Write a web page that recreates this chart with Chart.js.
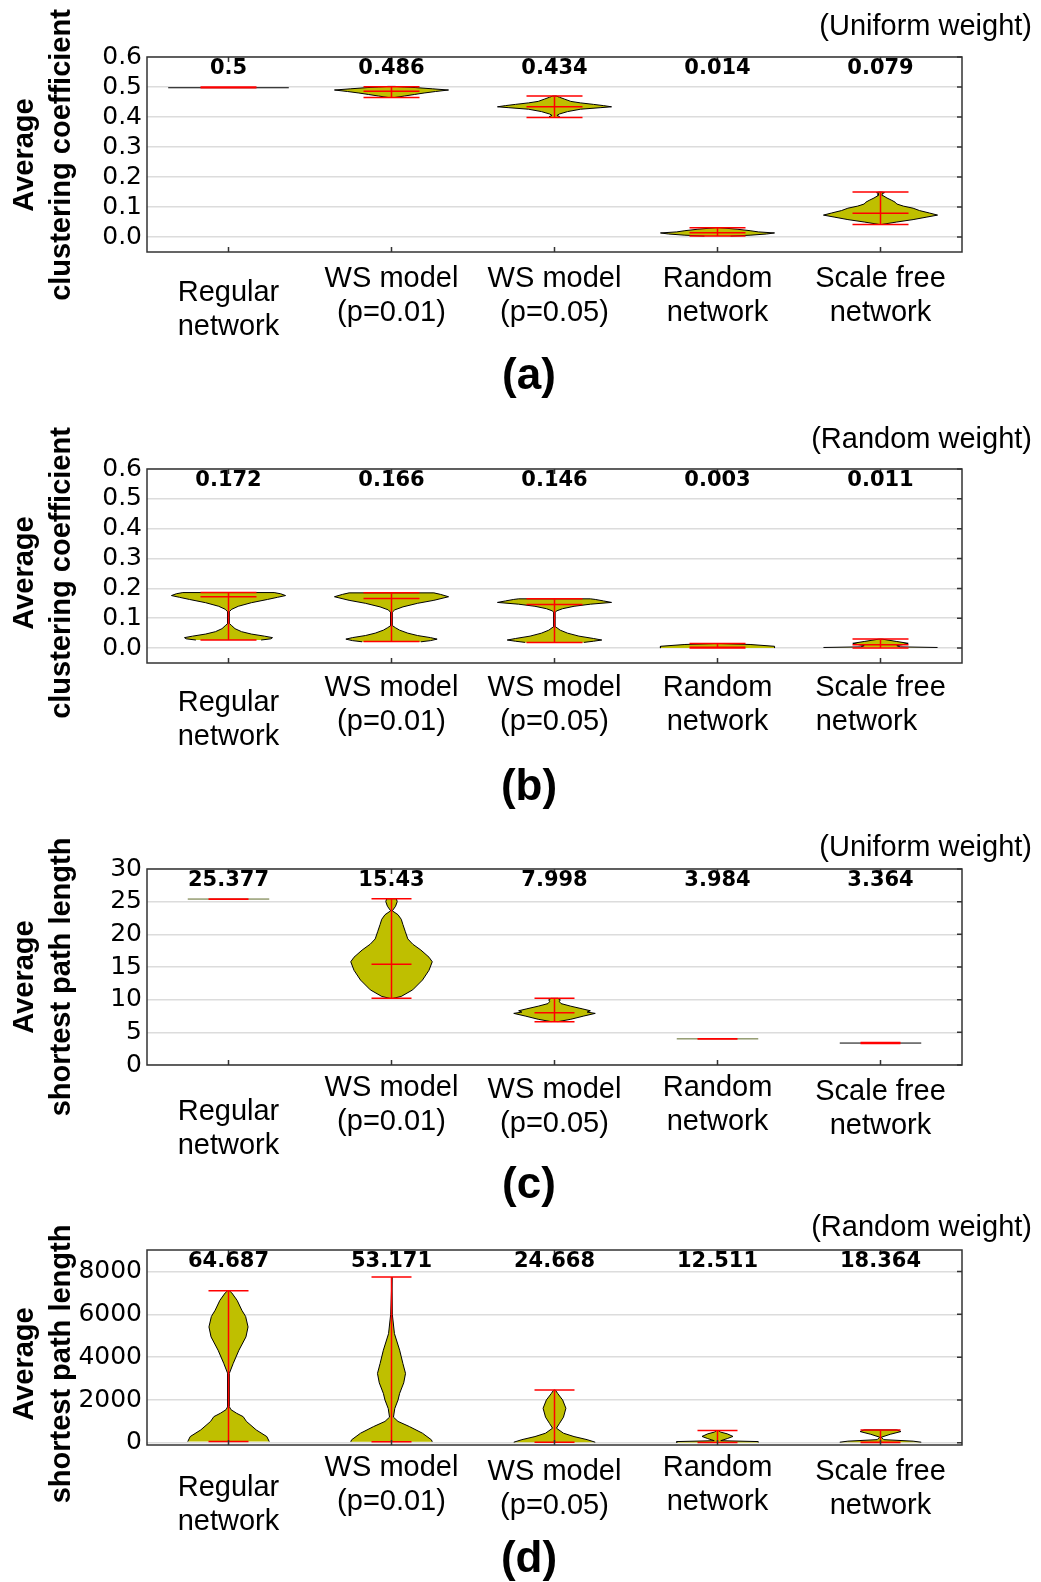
<!DOCTYPE html>
<html>
<head>
<meta charset="utf-8">
<title>Violin plots</title>
<script src="https://cdn.jsdelivr.net/npm/chart.js@4.4.1/dist/chart.umd.min.js"></script>
<style>
  html, body { margin: 0; padding: 0; background: #fff; }
  body { position: relative; width: 1041px; height: 1582px; overflow: hidden; }
  canvas { position: absolute; left: 0; }
</style>
</head>
<body>
<canvas id="panelA" width="1041" height="410" style="top:0px"></canvas>
<canvas id="panelB" width="1041" height="405" style="top:410px"></canvas>
<canvas id="panelC" width="1041" height="400" style="top:815px"></canvas>
<canvas id="panelD" width="1041" height="382" style="top:1200px"></canvas>
<script>
// categories (two lines each)
const categories = [
  ["Regular", "network"],
  ["WS model", "(p=0.01)"],
  ["WS model", "(p=0.05)"],
  ["Random", "network"],
  ["Scale free", "network"]
];

// violin profiles are [value, half width in category units]

// (a) clustering coefficient, uniform weight
const meanA = [0.5, 0.486, 0.434, 0.014, 0.079];
const minA = [0.4975, 0.465, 0.398, 0.003, 0.042];
const maxA = [0.4975, 0.501, 0.47, 0.031, 0.15];
const violinA = [
  [[0.4975, 0.37]],
  [[0.465, 0.02], [0.47, 0.08], [0.475, 0.14], [0.48, 0.2], [0.485, 0.27], [0.49, 0.35], [0.494, 0.25], [0.498, 0.15], [0.5, 0.08], [0.502, 0.02]],
  [[0.398, 0.03], [0.402, 0.03], [0.405, 0.015], [0.41, 0.03], [0.418, 0.08], [0.426, 0.16], [0.431, 0.28], [0.434, 0.35], [0.438, 0.3], [0.442, 0.24], [0.447, 0.16], [0.452, 0.1], [0.46, 0.06], [0.466, 0.03], [0.47, 0.01]],
  [[0.003, 0.08], [0.006, 0.2], [0.01, 0.3], [0.0135, 0.35], [0.017, 0.25], [0.021, 0.2], [0.026, 0.12], [0.031, 0.01]],
  [[0.042, 0.01], [0.05, 0.1], [0.058, 0.2], [0.066, 0.28], [0.073, 0.35], [0.08, 0.3], [0.088, 0.24], [0.096, 0.2], [0.103, 0.14], [0.11, 0.1], [0.116, 0.09], [0.122, 0.07], [0.13, 0.04], [0.138, 0.015], [0.144, 0.01], [0.148, 0.025], [0.15, 0.005]]
];
const ticksA = [0, 0.1, 0.2, 0.3, 0.4, 0.5, 0.6];
const tickLabelsA = ["0.0", "0.1", "0.2", "0.3", "0.4", "0.5", "0.6"];

// (b) clustering coefficient, random weight
const meanB = [0.172, 0.166, 0.146, 0.003, 0.011];
const minB = [0.027, 0.022, 0.019, 0.0, 0.0];
const maxB = [0.186, 0.185, 0.165, 0.015, 0.03];
const violinB = [
  [[0.027, 0.2], [0.031, 0.26], [0.035, 0.27], [0.04, 0.22], [0.047, 0.14], [0.055, 0.08], [0.065, 0.04], [0.075, 0.02], [0.082, 0.006], [0.1, 0.004], [0.122, 0.006], [0.13, 0.02], [0.14, 0.06], [0.152, 0.14], [0.163, 0.24], [0.17, 0.3], [0.176, 0.35], [0.182, 0.32], [0.186, 0.28]],
  [[0.021, 0.18], [0.025, 0.24], [0.03, 0.28], [0.035, 0.24], [0.042, 0.16], [0.05, 0.1], [0.06, 0.05], [0.068, 0.025], [0.075, 0.006], [0.1, 0.004], [0.12, 0.006], [0.128, 0.02], [0.138, 0.07], [0.15, 0.16], [0.16, 0.26], [0.172, 0.35], [0.18, 0.3], [0.185, 0.26]],
  [[0.019, 0.18], [0.023, 0.24], [0.027, 0.29], [0.032, 0.24], [0.04, 0.15], [0.05, 0.08], [0.06, 0.035], [0.068, 0.015], [0.072, 0.004], [0.12, 0.004], [0.125, 0.015], [0.132, 0.05], [0.14, 0.12], [0.147, 0.22], [0.153, 0.35], [0.158, 0.3], [0.163, 0.25], [0.165, 0.22]],
  [[0.0, 0.35], [0.006, 0.35], [0.012, 0.2], [0.015, 0.02]],
  [[0.002, 0.35], [0.004, 0.12], [0.008, 0.1], [0.012, 0.14], [0.016, 0.17], [0.022, 0.1], [0.03, 0.01]]
];
const ticksB = [0, 0.1, 0.2, 0.3, 0.4, 0.5, 0.6];
const tickLabelsB = ["0.0", "0.1", "0.2", "0.3", "0.4", "0.5", "0.6"];

// (c) shortest path length, uniform weight
const meanC = [25.377, 15.43, 7.998, 3.984, 3.364];
const minC = [25.4, 10.2, 6.63, 4.0, 3.3];
const maxC = [25.4, 25.45, 10.2, 4.0, 3.45];
const violinC = [
  [[25.4, 0.25]],
  [[10.2, 0.01], [10.5, 0.06], [11.5, 0.13], [13, 0.19], [14.5, 0.23], [15.8, 0.25], [16.5, 0.23], [17.6, 0.18], [18.5, 0.13], [19.3, 0.1], [20.4, 0.085], [21.5, 0.07], [22.3, 0.06], [23, 0.04], [23.6, 0.005], [24.3, 0.025], [25, 0.035], [25.45, 0.03]],
  [[6.63, 0.02], [7.0, 0.1], [7.5, 0.18], [7.9, 0.25], [8.1, 0.2], [8.3, 0.22], [8.6, 0.17], [9.0, 0.1], [9.4, 0.04], [9.7, 0.03], [10.0, 0.035], [10.2, 0.02]],
  [[4.0, 0.25]],
  [[3.36, 0.25]]
];
const ticksC = [0, 5, 10, 15, 20, 25, 30];
const tickLabelsC = ["0", "5", "10", "15", "20", "25", "30"];

// (d) shortest path length, random weight
const meanD = [64.687, 53.171, 24.668, 12.511, 18.364];
const minD = [60, 50, 30, 15, 30];
const maxD = [7100, 7735, 2465, 575, 605];
const violinD = [
  [[60, 0.25], [293, 0.235], [605, 0.17], [1000, 0.11], [1223, 0.09], [1380, 0.05], [1550, 0.015], [1690, 0.005], [3240, 0.005], [3707, 0.029], [4325, 0.064], [4945, 0.107], [5410, 0.12], [5900, 0.105], [6186, 0.082], [6650, 0.053], [7000, 0.02], [7100, 0.005]],
  [[50, 0.25], [140, 0.245], [450, 0.19], [760, 0.11], [1000, 0.04], [1200, 0.012], [1600, 0.02], [2000, 0.04], [2310, 0.05], [2800, 0.075], [3240, 0.086], [3700, 0.07], [4325, 0.05], [5100, 0.018], [6000, 0.005], [7735, 0.003]],
  [[30, 0.25], [150, 0.2], [293, 0.12], [450, 0.055], [684, 0.012], [900, 0.03], [1200, 0.055], [1614, 0.07], [2000, 0.05], [2300, 0.02], [2465, 0.005]],
  [[15, 0.25], [60, 0.25], [100, 0.02], [200, 0.06], [300, 0.095], [420, 0.06], [500, 0.02], [575, 0.005]],
  [[30, 0.25], [80, 0.2], [150, 0.02], [265, 0.005], [400, 0.06], [527, 0.125], [605, 0.1]]
];
const ticksD = [0, 2000, 4000, 6000, 8000];
const tickLabelsD = ["0", "2000", "4000", "6000", "8000"];

// layout
const PLOT_LEFT = 147;
const PLOT_RIGHT = 962;
const FILL = "#bfbf00";
const RED = "#ff0000";

const panels = [
  { id: "panelA", letter: "(a)", note: "(Uniform weight)", title: ["Average", "clustering coefficient"],
    mean: meanA, min: minA, max: maxA, violins: violinA, ticks: ticksA, tickLabels: tickLabelsA,
    yMin: -0.05, yMax: 0.6, top: 57, bottom: 252, capHalf: 28,
    noteY: 27, letterY: 377, titleY: 155,
    labelY: [293, 279, 279, 279, 279], labelDx: [0, 0, 0, 0, 0],
    edges: ["#000", "#000", "#000", "#000", "#000"] },
  { id: "panelB", letter: "(b)", note: "(Random weight)", title: ["Average", "clustering coefficient"],
    mean: meanB, min: minB, max: maxB, violins: violinB, ticks: ticksB, tickLabels: tickLabelsB,
    yMin: -0.05, yMax: 0.6, top: 59, bottom: 253, capHalf: 28,
    noteY: 30, letterY: 378, titleY: 163,
    labelY: [293, 278, 278, 278, 278], labelDx: [0, 0, 0, 0, -14],
    edges: ["#000", "#000", "#000", "#000", "#000"] },
  { id: "panelC", letter: "(c)", note: "(Uniform weight)", title: ["Average", "shortest path length"],
    mean: meanC, min: minC, max: maxC, violins: violinC, ticks: ticksC, tickLabels: tickLabelsC,
    yMin: 0, yMax: 30, top: 54, bottom: 250, capHalf: 20,
    noteY: 33, letterY: 371, titleY: 162,
    labelY: [297, 273, 275, 273, 277], labelDx: [0, 0, 0, 0, 0],
    edges: ["#5f6a2a", "#000", "#000", "#5f6a2a", "#000"] },
  { id: "panelD", letter: "(d)", note: "(Random weight)", title: ["Average", "shortest path length"],
    mean: meanD, min: minD, max: maxD, violins: violinD, ticks: ticksD, tickLabels: tickLabelsD,
    yMin: -100, yMax: 9000, top: 50, bottom: 245, capHalf: 20,
    noteY: 28, letterY: 360, titleY: 164,
    labelY: [288, 268, 272, 268, 272], labelDx: [0, 0, 0, 0, 0],
    edges: ["#000", "#000", "#000", "#000", "#000"] }
];

const overlay = {
  id: "overlay",
  afterDatasetsDraw(chart, args, opts) {
    const p = opts.panel;
    const ctx = chart.ctx;
    const xs = chart.scales.x, ys = chart.scales.y;
    const a = chart.chartArea;
    ctx.save();

    // red min / max / mean markers
    ctx.strokeStyle = RED;
    ctx.lineWidth = 1.5;
    p.mean.forEach((m, i) => {
      const cx = xs.getPixelForValue(i + 1);
      const yMin = ys.getPixelForValue(p.min[i]);
      const yMax = ys.getPixelForValue(p.max[i]);
      const yMean = ys.getPixelForValue(m);
      ctx.beginPath();
      ctx.moveTo(cx, yMin); ctx.lineTo(cx, yMax);
      [yMin, yMax, yMean].forEach(y => { ctx.moveTo(cx - p.capHalf, y); ctx.lineTo(cx + p.capHalf, y); });
      ctx.stroke();
    });

    // frame and inward ticks
    ctx.strokeStyle = "#333";
    ctx.lineWidth = 1.5;
    ctx.strokeRect(a.left, a.top, a.right - a.left, a.bottom - a.top);
    ctx.beginPath();
    p.ticks.forEach(v => {
      const y = ys.getPixelForValue(v);
      ctx.moveTo(a.right, y); ctx.lineTo(a.right - 5, y);
    });
    p.mean.forEach((m, i) => {
      const cx = xs.getPixelForValue(i + 1);
      ctx.moveTo(cx, a.bottom); ctx.lineTo(cx, a.bottom - 5);
      ctx.moveTo(cx, a.top); ctx.lineTo(cx, a.top + 5);
    });
    ctx.stroke();

    // mean values at the top
    ctx.fillStyle = "#000";
    ctx.font = 'bold 21px "DejaVu Sans", sans-serif';
    ctx.textAlign = "center";
    ctx.textBaseline = "middle";
    p.mean.forEach((m, i) => {
      ctx.fillText(String(m), xs.getPixelForValue(i + 1), a.top + 12);
    });

    // category labels
    ctx.font = '29px "Liberation Sans", Arial, sans-serif';
    categories.forEach((lines, i) => {
      const cx = xs.getPixelForValue(i + 1);
      lines.forEach((t, k) => {
        const dx = k === 1 ? p.labelDx[i] : 0;
        ctx.fillText(t, cx + dx, p.labelY[i] + k * 34);
      });
    });

    // weight note and panel letter
    ctx.textAlign = "right";
    ctx.fillText(p.note, 1032, p.noteY);
    ctx.textAlign = "center";
    ctx.font = 'bold 44px "Liberation Sans", Arial, sans-serif';
    ctx.fillText(p.letter, 529, p.letterY);

    // y axis title
    ctx.font = 'bold 29px "Liberation Sans", Arial, sans-serif';
    [25, 62].forEach((x, k) => {
      ctx.save();
      ctx.translate(x, p.titleY);
      ctx.rotate(-Math.PI / 2);
      ctx.fillText(p.title[k], 0, 0);
      ctx.restore();
    });
    ctx.restore();
  }
};

function buildPanel(p) {
  const canvas = document.getElementById(p.id);
  const H = canvas.height;
  const datasets = p.violins.map((prof, i) => {
    const c = i + 1;
    const right = prof.map(([v, w]) => ({ x: c + w, y: v }));
    const left = prof.slice().reverse().map(([v, w]) => ({ x: c - w, y: v }));
    return {
      data: right.concat(left),
      showLine: true,
      fill: "shape",
      backgroundColor: FILL,
      borderColor: p.edges[i],
      borderWidth: 1,
      pointRadius: 0,
      tension: 0
    };
  });

  new Chart(canvas, {
    type: "scatter",
    data: { datasets },
    options: {
      responsive: false,
      animation: false,
      events: [],
      layout: { padding: { left: 0, right: 1041 - PLOT_RIGHT, top: p.top, bottom: 0 } },
      plugins: {
        legend: { display: false },
        tooltip: { enabled: false },
        overlay: { panel: p }
      },
      scales: {
        x: {
          type: "linear", min: 0.5, max: 5.5,
          grid: { display: false }, border: { display: false },
          ticks: { display: false },
          afterFit: s => { s.height = H - p.bottom; }
        },
        y: {
          type: "linear", min: p.yMin, max: p.yMax,
          afterBuildTicks: s => { s.ticks = p.ticks.map(v => ({ value: v })); },
          ticks: {
            autoSkip: false,
            callback: (v, i) => p.tickLabels[i],
            font: { family: '"DejaVu Sans", sans-serif', size: 25 },
            color: "#000",
            padding: 5
          },
          grid: { color: "#dcdcdc", lineWidth: 1.5, drawTicks: false },
          border: { display: false },
          afterFit: s => { s.width = PLOT_LEFT; }
        }
      }
    },
    plugins: [overlay]
  });
}

panels.forEach(buildPanel);
</script>
</body>
</html>
